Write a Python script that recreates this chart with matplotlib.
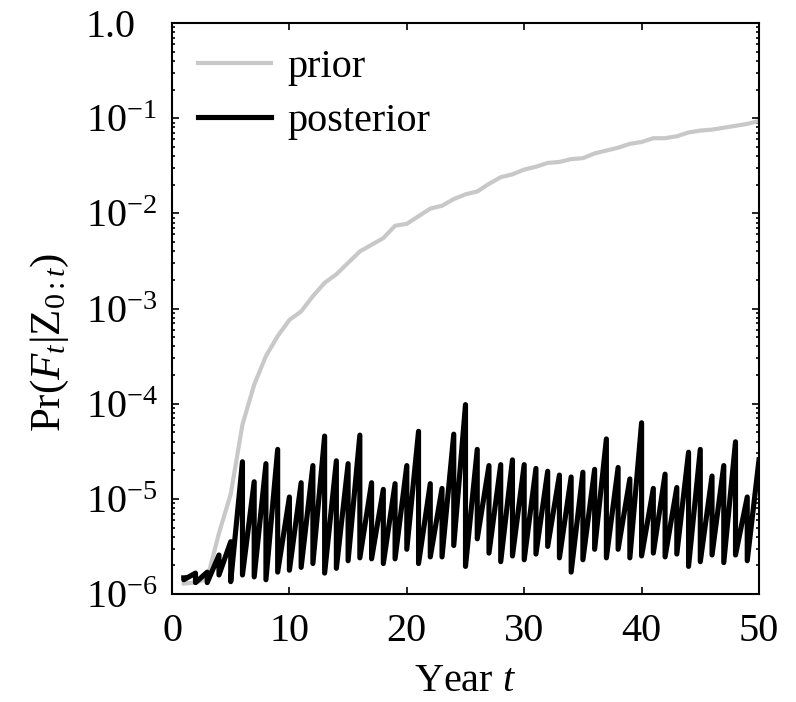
import numpy as np
import matplotlib
matplotlib.use('Agg')
import matplotlib.pyplot as plt
from matplotlib.ticker import FixedLocator, FixedFormatter, LogLocator, NullFormatter

plt.rcParams['font.family'] = ['Liberation Serif', 'DejaVu Serif']
plt.rcParams['mathtext.fontset'] = 'custom'
plt.rcParams['mathtext.rm'] = 'Liberation Serif'
plt.rcParams['mathtext.it'] = 'Liberation Serif:italic'
plt.rcParams['mathtext.bf'] = 'Liberation Serif:bold'

# values, as log10 of the probability
years = np.arange(1, 51)
prior_log = [-5.89, -5.88, -5.84, -5.36, -4.95, -4.22, -3.80, -3.50, -3.29, -3.12,
             -3.03, -2.87, -2.73, -2.64, -2.52, -2.40, -2.33, -2.26, -2.13, -2.11,
             -2.03, -1.95, -1.92, -1.85, -1.80, -1.77, -1.69, -1.62, -1.59, -1.54,
             -1.51, -1.47, -1.46, -1.43, -1.42, -1.37, -1.34, -1.31, -1.27, -1.25,
             -1.21, -1.21, -1.19, -1.15, -1.13, -1.12, -1.10, -1.08, -1.06, -1.03]

# posterior before the yearly update (peaks) and after it (troughs)
post_peak_log = [-5.83, -5.78, -5.77, -5.59, -5.45, -4.61, -4.82, -4.63, -4.48, -4.98,
                 -4.83, -4.65, -4.34, -4.60, -4.63, -4.33, -4.83, -4.90, -4.84, -4.65,
                 -4.29, -4.84, -4.89, -4.32, -4.01, -4.48, -4.65, -4.64, -4.59, -4.64,
                 -4.68, -4.71, -4.75, -4.77, -4.72, -4.69, -4.37, -4.67, -4.79, -4.20,
                 -4.89, -4.74, -4.88, -4.51, -4.48, -4.76, -4.65, -4.40, -4.98, -4.59]
post_trough_log = [-5.85, -5.88, -5.88, -5.80, -5.87, -5.80, -5.82, -5.85, -5.77, -5.75,
                   -5.72, -5.68, -5.78, -5.73, -5.65, -5.62, -5.63, -5.68, -5.63, -5.53,
                   -5.68, -5.61, -5.61, -5.49, -5.71, -5.42, -5.57, -5.66, -5.60, -5.64,
                   -5.58, -5.50, -5.62, -5.77, -5.64, -5.53, -5.62, -5.53, -5.62, -5.60,
                   -5.57, -5.61, -5.58, -5.71, -5.66, -5.59, -5.67, -5.59, -5.65]

ytick_vals = [1e-6, 1e-5, 1e-4, 1e-3, 1e-2, 1e-1, 1.0]
ytick_labels = [r'$10^{-6}$', r'$10^{-5}$', r'$10^{-4}$', r'$10^{-3}$',
                r'$10^{-2}$', r'$10^{-1}$', '1.0']
xtick_vals = [0, 10, 20, 30, 40, 50]

prior = 10.0 ** np.array(prior_log)

# zigzag: peak then trough at each year
post_x, post_y = [], []
for i, t in enumerate(years):
    post_x.append(t)
    post_y.append(10.0 ** post_peak_log[i])
    if i < len(post_trough_log):
        post_x.append(t)
        post_y.append(10.0 ** post_trough_log[i])

fs = 29
fig = plt.figure(figsize=(7.96, 7.02), dpi=100)
ax = fig.add_axes([0.2161, 0.1538, 0.7374, 0.8134])

ax.plot(years, prior, color='#c8c8c8', lw=3.0, label='prior')
ax.plot(post_x, post_y, color='black', lw=3.7, label='posterior')

ax.set_yscale('log')
ax.set_xlim(0, 50)
ax.set_ylim(1e-6, 1.0)

ax.yaxis.set_major_locator(FixedLocator(ytick_vals))
ax.yaxis.set_major_formatter(FixedFormatter(ytick_labels))
ax.yaxis.set_minor_locator(LogLocator(base=10, subs=np.arange(2, 10)))
ax.yaxis.set_minor_formatter(NullFormatter())
ax.set_xticks(xtick_vals)

ax.tick_params(which='both', direction='in', top=True, right=True, width=1.2)
ax.tick_params(which='major', length=5)
ax.tick_params(which='minor', length=2.5)
ax.tick_params(axis='x', labelsize=fs, pad=14)
ax.tick_params(axis='y', labelsize=fs, pad=62)
for lab in ax.get_yticklabels():
    lab.set_horizontalalignment('left')

for sp in ax.spines.values():
    sp.set_linewidth(1.5)

ax.set_xlabel('Year $t$', fontsize=fs)
ax.xaxis.set_label_coords(0.5, -0.12)
ax.set_ylabel(r'$\mathrm{Pr}(F_t|\mathrm{Z}_{0:t})$', fontsize=31)
ax.yaxis.set_label_coords(-0.172, 0.44)

ax.legend(loc='upper left', bbox_to_anchor=(0.045, 0.955), frameon=False,
          fontsize=fs, borderaxespad=0, borderpad=0, handlelength=1.8,
          handletextpad=0.4, labelspacing=0.42)

fig.savefig('out.png', dpi=100)
